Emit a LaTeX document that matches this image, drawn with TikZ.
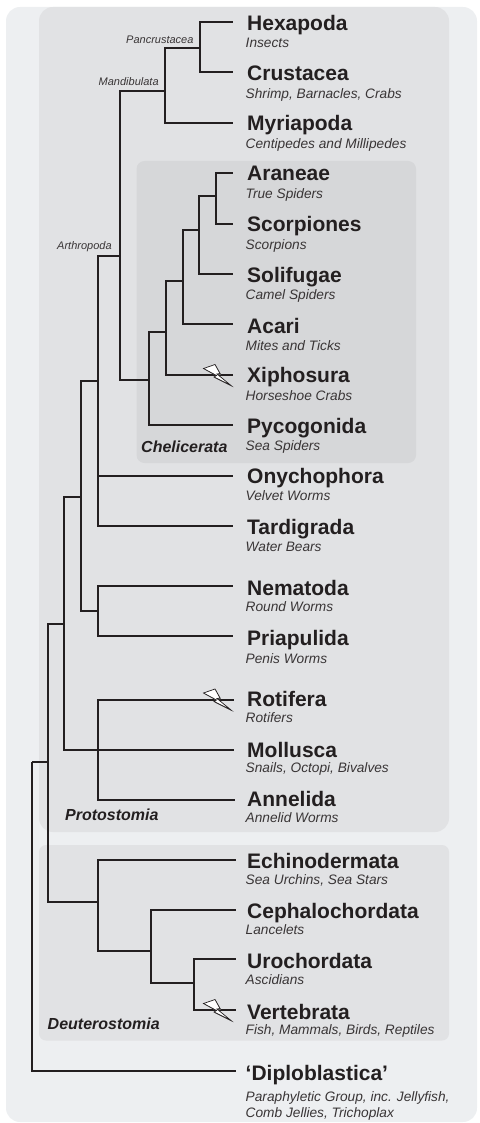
\documentclass[tikz,border=0pt]{standalone}
\usepackage{fontspec}
\setmainfont{Liberation Sans}
\definecolor{ink}{HTML}{231F20}
\definecolor{outerbg}{HTML}{EDEFF1}
\definecolor{midbg}{HTML}{E1E2E4}
\definecolor{innerbg}{HTML}{D6D7D9}
\tikzset{
  panel/.style={draw=none,fill=#1},
  branch/.style={draw=ink,line width=2pt,line join=miter},
  taxon/.style={anchor=base west,inner sep=0pt,text=ink,font=\fontsize{21}{21}\selectfont\bfseries},
  common/.style={anchor=base west,inner sep=0pt,text=ink!90,font=\fontsize{13.7}{16}\selectfont\itshape},
  clade/.style={anchor=base west,inner sep=0pt,text=ink,font=\fontsize{16}{16}\selectfont\bfseries\itshape},
  rank/.style={anchor=base west,inner sep=0pt,text=ink!90,font=\fontsize{11}{11}\selectfont\itshape},
  pics/bolt/.style={code={
    \fill[black!55,shift={(1,1)}] (-28.5,-6.5)--(-17,-10.5)--(-12,-1.5)--(-15,-1)--(-1,10.5)--(-18,2)--(-15.5,0.5)--cycle;
    \draw[ink,fill=white,line width=0.7pt,line join=miter] (-28.5,-6.5)--(-17,-10.5)--(-12,-1.5)--(-15,-1)--(-1,10.5)--(-18,2)--(-15.5,0.5)--cycle;
  }}
}
\newcommand{\leaf}[7]{% id, title, subtitle, line y, title base, sub base, tip x
  \node[taxon] (#1) at (247,#5) {#2};
  \node[common] (#1sub) at (245.5,#6) {#3};
  \coordinate (#1tip) at (#7,#4);
}
\begin{document}
\begin{tikzpicture}[x=1pt,y=-1pt]
\useasboundingbox (0,0) rectangle (479,1123);
% panels
\path[panel=outerbg,rounded corners=14pt] (6,7) rectangle (477,1122);
\path[panel=midbg,rounded corners=14pt] (39,7) rectangle (449,832);
\path[panel=innerbg,rounded corners=8pt] (136.5,161) rectangle (416,463);
\path[panel=midbg,rounded corners=7pt] (39,845) rectangle (449,1040.5);
% taxa
\leaf{hexapoda}{Hexapoda}{Insects}{22}{31}{48}{232.5}
\leaf{crustacea}{Crustacea}{Shrimp, Barnacles, Crabs}{72}{81}{99}{232.5}
\leaf{myriapoda}{Myriapoda}{Centipedes and Millipedes}{123}{131}{149}{232.5}
\leaf{araneae}{Araneae}{True Spiders}{173}{181}{199}{232.5}
\leaf{scorpiones}{Scorpiones}{Scorpions}{224}{232}{249}{232.5}
\leaf{solifugae}{Solifugae}{Camel Spiders}{274}{282}{299}{232.5}
\leaf{acari}{Acari}{Mites and Ticks}{324}{333}{350}{232.5}
\leaf{xiphosura}{Xiphosura}{Horseshoe Crabs}{375}{382}{400}{232.5}
\leaf{pycogonida}{Pycogonida}{Sea Spiders}{425}{433}{450}{232.5}
\leaf{onychophora}{Onychophora}{Velvet Worms}{476}{483}{500}{232.5}
\leaf{tardigrada}{Tardigrada}{Water Bears}{526}{534}{551}{232.5}
\leaf{nematoda}{Nematoda}{Round Worms}{586}{595}{611}{233}
\leaf{priapulida}{Priapulida}{Penis Worms}{636}{645}{663}{233}
\leaf{rotifera}{Rotifera}{Rotifers}{699.5}{706}{722}{234}
\leaf{mollusca}{Mollusca}{Snails, Octopi, Bivalves}{750}{757}{772}{234}
\leaf{annelida}{Annelida}{Annelid Worms}{800}{806}{822}{234.5}
\leaf{echinodermata}{Echinodermata}{Sea Urchins, Sea Stars}{860}{868}{884}{236}
\leaf{cephalochordata}{Cephalochordata}{Lancelets}{910}{918}{934}{236}
\leaf{urochordata}{Urochordata}{Ascidians}{959}{968}{984}{236}
\leaf{vertebrata}{Vertebrata}{Fish, Mammals, Birds, Reptiles}{1010}{1019}{1034}{236}
\node[taxon] (diploblastica) at (245.5,1080) {‘Diploblastica’};
\node[common] (diplosub) at (245.5,1101) {Paraphyletic Group, inc. Jellyfish,};
\node[common] (diplosubb) at (245.5,1117) {Comb Jellies, Trichoplax};
\coordinate (diplotip) at (235.5,1071);
% clade labels
\node[clade] (chelicerata) at (141,452) {Chelicerata};
\node[clade] (protostomia) at (65,820) {Protostomia};
\node[clade] (deuterostomia) at (47.5,1029) {Deuterostomia};
\node[rank] (pancrustacea) at (126,44) {Pancrustacea};
\node[rank] (mandibulata) at (98.5,86) {Mandibulata};
\node[rank] (arthropoda) at (57,250) {Arthropoda};
% internal nodes: x of the vertical, y of the stem that enters it
\coordinate (root) at (32,762);
\coordinate (bilateria) at (48,762);
\coordinate (proto) at (64,624);
\coordinate (ecdyso) at (81,497);
\coordinate (panarth) at (98,381);
\coordinate (arthro) at (120,256);
\coordinate (mandi) at (165,91);
\coordinate (pancr) at (200,48);
\coordinate (cheli) at (149,380);
\coordinate (euch) at (166,332);
\coordinate (ch2) at (183,281);
\coordinate (ch3) at (199,230);
\coordinate (ch4) at (216,196);
\coordinate (cyclo) at (98,611);
\coordinate (spiral) at (98,750);
\coordinate (deut) at (97.5,902);
\coordinate (chord) at (151,951);
\coordinate (olfac) at (194,983);
% connectors
\draw[branch] (root) |- (diplotip);
\draw[branch] (root) |- (bilateria);
\draw[branch] (bilateria) |- (proto);
\draw[branch] (bilateria) |- (deut);
\draw[branch] (proto) |- (ecdyso);
\draw[branch] (proto) |- (spiral);
\draw[branch] (spiral) -- (molluscatip);
\draw[branch] (ecdyso) |- (panarth);
\draw[branch] (ecdyso) |- (cyclo);
\draw[branch] (panarth) |- (arthro);
\draw[branch] (panarth) |- (onychophoratip);
\draw[branch] (panarth) |- (tardigradatip);
\draw[branch] (arthro) |- (mandi);
\draw[branch] (arthro) |- (cheli);
\draw[branch] (mandi) |- (pancr);
\draw[branch] (mandi) |- (myriapodatip);
\draw[branch] (pancr) |- (hexapodatip);
\draw[branch] (pancr) |- (crustaceatip);
\draw[branch] (cheli) |- (euch);
\draw[branch] (cheli) |- (pycogonidatip);
\draw[branch] (euch) |- (ch2);
\draw[branch] (euch) |- (xiphosuratip);
\draw[branch] (ch2) |- (ch3);
\draw[branch] (ch2) |- (acaritip);
\draw[branch] (ch3) |- (ch4);
\draw[branch] (ch3) |- (solifugaetip);
\draw[branch] (ch4) |- (araneaetip);
\draw[branch] (ch4) |- (scorpionestip);
\draw[branch] (cyclo) |- (nematodatip);
\draw[branch] (cyclo) |- (priapulidatip);
\draw[branch] (spiral) |- (rotiferatip);
\draw[branch] (spiral) |- (annelidatip);
\draw[branch] (deut) |- (echinodermatatip);
\draw[branch] (deut) |- (chord);
\draw[branch] (chord) |- (cephalochordatatip);
\draw[branch] (chord) |- (olfac);
\draw[branch] (olfac) |- (urochordatatip);
\draw[branch] (olfac) |- (vertebratatip);
% bolts
\pic at (232,375) {bolt};
\pic at (232,699.5) {bolt};
\pic at (232,1010) {bolt};
\end{tikzpicture}
\end{document}
